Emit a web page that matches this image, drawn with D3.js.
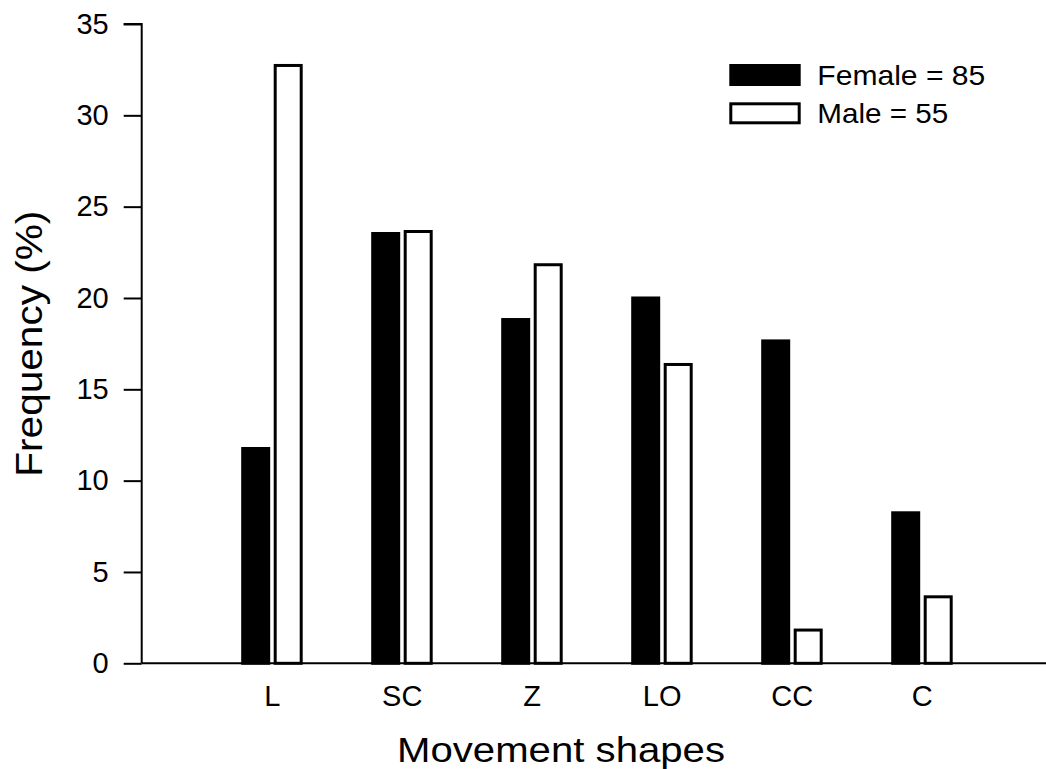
<!DOCTYPE html>
<html>
<head>
<meta charset="utf-8">
<script src="https://cdn.jsdelivr.net/npm/d3@7"></script>
<style>
  html, body { margin: 0; padding: 0; background: #fff; overflow: hidden; }
  svg { display: block; overflow: hidden; }
  text { font-family: "Liberation Sans", Arial, Helvetica, sans-serif; fill: #000; }
</style>
</head>
<body>
<svg id="chart" width="1046" height="769"></svg>
<script>
const categories = ["L", "SC", "Z", "LO", "CC", "C"];
const femaleValues = [11.76, 23.53, 18.82, 20.0, 17.65, 8.24];
const maleValues = [32.73, 23.64, 21.82, 16.36, 1.82, 3.64];
const seriesNames = ["Female = 85", "Male = 55"];
const yTicks = [0, 5, 10, 15, 20, 25, 30, 35];

const svg = d3.select("#chart");
const x = d3.scaleLinear().domain([0, 7]).range([141.7, 1051.7]);
const y = d3.scaleLinear().domain([0, 35]).range([663.3, 24]);

// Bars
const barW = 26;
const g = svg.append("g");
g.selectAll("rect.female").data(femaleValues).join("rect")
  .attr("class", "female")
  .attr("x", (d, i) => x(i + 1) - 29)
  .attr("y", d => y(d))
  .attr("width", barW)
  .attr("height", d => y(0) - y(d))
  .attr("fill", "#000").attr("stroke", "#000").attr("stroke-width", 3);
g.selectAll("rect.male").data(maleValues).join("rect")
  .attr("class", "male")
  .attr("x", (d, i) => x(i + 1) + 3.5)
  .attr("y", d => y(d))
  .attr("width", barW)
  .attr("height", d => y(0) - y(d))
  .attr("fill", "#fff").attr("stroke", "#000").attr("stroke-width", 3);

// Y axis
const yAxis = d3.axisLeft(y).tickValues(yTicks).tickSize(18).tickPadding(15).tickFormat(d3.format("d"));
const yg = svg.append("g").attr("transform", `translate(${x(0)},0)`).call(yAxis);
yg.attr("font-size", 29).attr("font-family", "Liberation Sans, Arial, sans-serif");
yg.select(".domain").attr("stroke", "#000").attr("stroke-width", 2).attr("d", `M-18,${y(35)}H0V${y(0)}`);
yg.selectAll(".tick line").attr("stroke", "#000").attr("stroke-width", 2);
yg.selectAll(".tick text").attr("font-size", 29).attr("fill", "#000");

// X axis
const xAxis = d3.axisBottom(x).tickValues(d3.range(1, categories.length + 1))
  .tickFormat(d => categories[d - 1]).tickSize(0).tickPadding(22);
const xg = svg.append("g").attr("transform", `translate(0,${y(0)})`).call(xAxis);
xg.attr("font-size", 29).attr("font-family", "Liberation Sans, Arial, sans-serif");
xg.select(".domain").attr("stroke", "#000").attr("stroke-width", 2).attr("d", `M${x(0)},0H1060`);
xg.selectAll(".tick text").attr("font-size", 29).attr("fill", "#000");

// Axis titles
svg.append("text")
  .attr("x", 397).attr("y", 761.5)
  .attr("font-size", 35)
  .attr("textLength", 328).attr("lengthAdjust", "spacingAndGlyphs")
  .text("Movement shapes");
svg.append("text")
  .attr("transform", "translate(41.7,476.7) rotate(-90)")
  .attr("font-size", 37)
  .attr("textLength", 266).attr("lengthAdjust", "spacingAndGlyphs")
  .text("Frequency (%)");

// Legend
const legend = svg.append("g");
const legendFills = ["#000", "#fff"];
const legendY = [65.5, 103.8];
const legendTextY = [85, 122.7];
const legendLen = [168, 131];
seriesNames.forEach((name, i) => {
  legend.append("rect")
    .attr("x", 730.8).attr("y", legendY[i])
    .attr("width", 68.4).attr("height", 19)
    .attr("fill", legendFills[i]).attr("stroke", "#000").attr("stroke-width", 3);
  legend.append("text")
    .attr("x", 817.3).attr("y", legendTextY[i])
    .attr("font-size", 28)
    .attr("textLength", legendLen[i]).attr("lengthAdjust", "spacingAndGlyphs")
    .text(name);
});
</script>
</body>
</html>
